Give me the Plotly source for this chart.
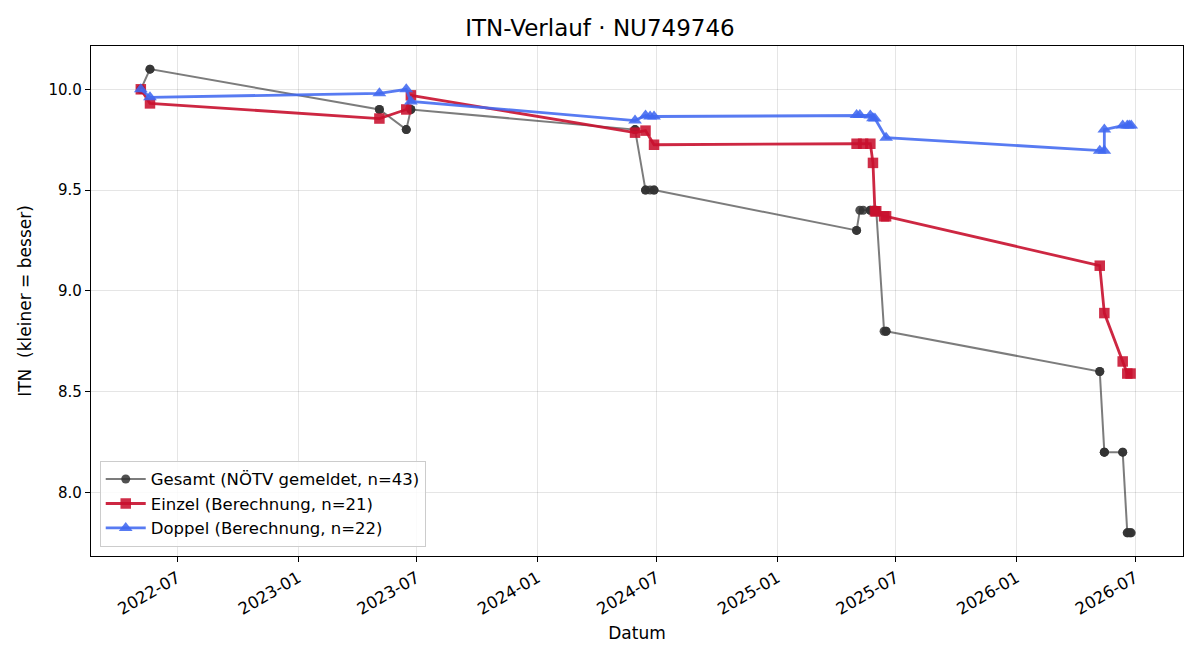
import plotly.graph_objects as go

# ---- data ----
gesamt_dates = [
    "2022-05-06", "2022-05-06", "2022-05-20", "2022-05-20",
    "2023-05-05", "2023-05-05", "2023-06-15", "2023-06-15", "2023-06-22", "2023-06-22",
    "2024-05-29", "2024-05-29", "2024-06-14", "2024-06-14", "2024-06-21", "2024-06-27", "2024-06-27",
    "2025-05-02", "2025-05-02", "2025-05-07", "2025-05-12", "2025-05-23", "2025-05-23",
    "2025-05-27", "2025-05-27", "2025-05-30", "2025-05-30", "2025-06-01",
    "2025-06-13", "2025-06-16", "2025-06-16",
    "2026-05-08", "2026-05-08", "2026-05-15", "2026-05-15", "2026-05-15",
    "2026-06-12", "2026-06-12", "2026-06-19", "2026-06-19", "2026-06-22", "2026-06-24", "2026-06-25",
]
gesamt_values = [
    10.0, 10.0, 10.1, 10.1,
    9.9, 9.9, 9.8, 9.8, 9.9, 9.9,
    9.8, 9.8, 9.5, 9.5, 9.5, 9.5, 9.5,
    9.3, 9.3, 9.4, 9.4, 9.4, 9.4,
    9.4, 9.4, 9.4, 9.4, 9.4,
    8.8, 8.8, 8.8,
    8.6, 8.6, 8.2, 8.2, 8.2,
    8.2, 8.2, 7.8, 7.8, 7.8, 7.8, 7.8,
]

einzel_dates = [
    "2022-05-06", "2022-05-20", "2023-05-05", "2023-06-15", "2023-06-22",
    "2024-05-29", "2024-06-14", "2024-06-27",
    "2025-05-02", "2025-05-12", "2025-05-23", "2025-05-27", "2025-05-30", "2025-06-01",
    "2025-06-13", "2025-06-16",
    "2026-05-08", "2026-05-15", "2026-06-12", "2026-06-19", "2026-06-24",
]
einzel_values = [
    10.0, 9.93, 9.855, 9.90, 9.97,
    9.785, 9.795, 9.725,
    9.73, 9.73, 9.73, 9.635, 9.395, 9.395,
    9.37, 9.37,
    9.125, 8.89, 8.65, 8.59, 8.59,
]

doppel_dates = [
    "2022-05-06", "2022-05-20", "2023-05-05", "2023-06-15", "2023-06-22",
    "2024-05-29", "2024-06-14", "2024-06-21", "2024-06-27",
    "2025-05-02", "2025-05-07", "2025-05-23", "2025-05-27", "2025-05-30", "2025-06-16",
    "2026-05-08", "2026-05-15", "2026-05-15", "2026-06-12", "2026-06-19", "2026-06-22", "2026-06-25",
]
doppel_values = [
    10.0, 9.96, 9.98, 10.0, 9.94,
    9.845, 9.87, 9.865, 9.865,
    9.872, 9.872, 9.87, 9.857, 9.855, 9.76,
    9.695, 9.695, 9.80, 9.82, 9.82, 9.82, 9.82,
]

x_tick_vals = ["2022-07-01", "2023-01-01", "2023-07-01", "2024-01-01", "2024-07-01",
               "2025-01-01", "2025-07-01", "2026-01-01", "2026-07-01"]
x_tick_text = ["2022-07", "2023-01", "2023-07", "2024-01", "2024-07",
               "2025-01", "2025-07", "2026-01", "2026-07"]
y_tick_vals = [8.0, 8.5, 9.0, 9.5, 10.0]
y_tick_text = ["8.0", "8.5", "9.0", "9.5", "10.0"]

FONT = "DejaVu Sans, Liberation Sans, sans-serif"

fig = go.Figure()
fig.add_trace(go.Scatter(
    x=gesamt_dates, y=gesamt_values, mode="lines+markers",
    name=f"Gesamt (NÖTV gemeldet, n={len(gesamt_values)})",
    line=dict(color="rgba(68,68,68,0.7)", width=2),
    marker=dict(symbol="circle", size=9, color="rgba(51,51,51,0.85)", line=dict(width=0)),
))
fig.add_trace(go.Scatter(
    x=einzel_dates, y=einzel_values, mode="lines+markers",
    name=f"Einzel (Berechnung, n={len(einzel_values)})",
    line=dict(color="rgba(200,16,46,0.9)", width=2.8),
    marker=dict(symbol="square", size=10.5, color="rgba(200,16,46,0.88)", line=dict(width=0)),
))
fig.add_trace(go.Scatter(
    x=doppel_dates, y=doppel_values, mode="lines+markers",
    name=f"Doppel (Berechnung, n={len(doppel_values)})",
    line=dict(color="rgba(65,105,240,0.88)", width=2.8),
    marker=dict(symbol="triangle-up", size=12, color="rgba(65,105,240,0.88)", line=dict(width=0)),
))

fig.update_layout(
    width=1200, height=660,
    margin=dict(l=91, r=17, t=46, b=104),
    paper_bgcolor="white", plot_bgcolor="white",
    font=dict(family=FONT, size=15, color="black"),
    title=dict(text="ITN-Verlauf · NU749746", x=0.5, xanchor="center", y=0.957, yanchor="middle",
               font=dict(family=FONT, size=23, color="black")),
    showlegend=True,
    legend=dict(x=0.008, y=0.018, xanchor="left", yanchor="bottom",
                bgcolor="rgba(255,255,255,0.85)", bordercolor="#cccccc", borderwidth=1,
                font=dict(family=FONT, size=16.5), itemwidth=40),
)
fig.update_xaxes(
    type="date", range=["2022-02-19", "2026-09-12"],
    tickmode="array", tickvals=x_tick_vals, ticktext=x_tick_text, tickangle=-30,
    ticks="outside", ticklen=5, tickcolor="black", tickfont=dict(family=FONT, size=16.5),
    showgrid=True, gridcolor="rgba(0,0,0,0.1)", gridwidth=1,
    showline=True, linecolor="black", linewidth=1.2, mirror=True, zeroline=False,
    title=dict(text="Datum", font=dict(family=FONT, size=17), standoff=9),
)
fig.update_yaxes(
    range=[7.685, 10.2148],
    tickmode="array", tickvals=y_tick_vals, ticktext=y_tick_text,
    ticks="outside", ticklen=5, tickcolor="black", tickfont=dict(family=FONT, size=15),
    showgrid=True, gridcolor="rgba(0,0,0,0.1)", gridwidth=1,
    showline=True, linecolor="black", linewidth=1.2, mirror=True, zeroline=False,
    title=dict(text="ITN  (kleiner = besser)", font=dict(family=FONT, size=17), standoff=12),
)

fig.write_html("out.html")
